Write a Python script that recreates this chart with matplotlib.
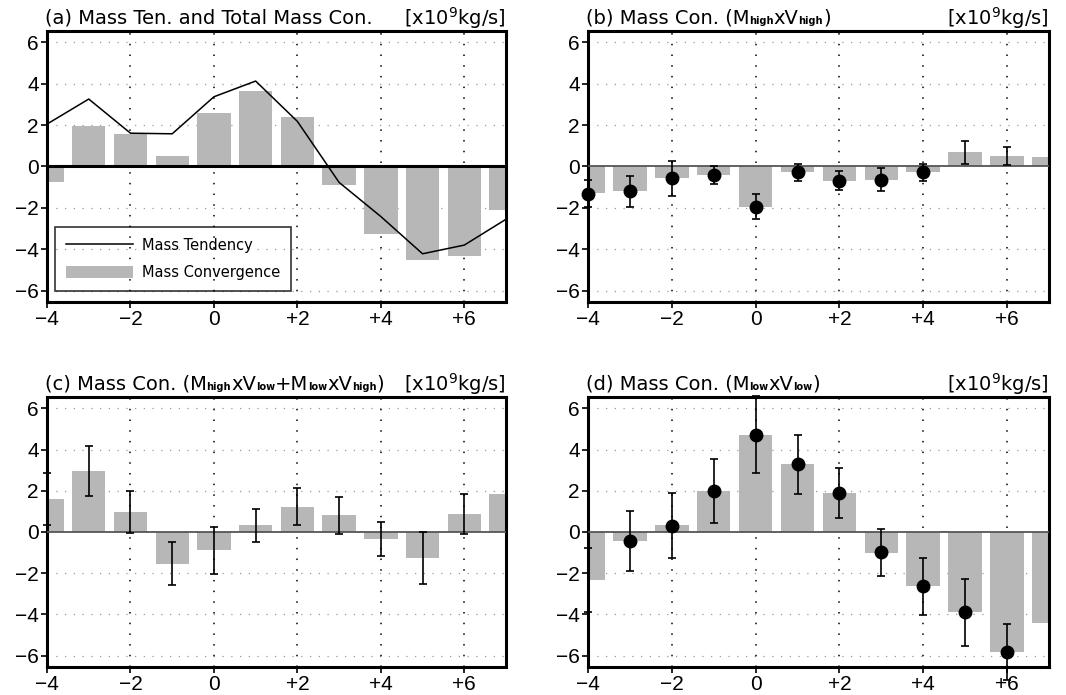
import matplotlib
matplotlib.use('Agg')
import matplotlib.pyplot as plt
from matplotlib.offsetbox import TextArea, HPacker, AnchoredOffsetbox
import numpy as np

# lag (x axis)
lags = [-4, -3, -2, -1, 0, 1, 2, 3, 4, 5, 6, 7]

# (a) mass tendency and total mass convergence
tend_a = [2.05, 3.26, 1.61, 1.58, 3.37, 4.13, 2.18, -0.77, -2.42, -4.22, -3.8, -2.55]
conv_a = [-0.77, 1.97, 1.55, 0.52, 2.6, 3.66, 2.4, -0.9, -3.27, -4.53, -4.35, -2.11]

# (b) Mhigh x Vhigh
conv_b = [-1.3, -1.2, -0.58, -0.42, -1.94, -0.29, -0.69, -0.63, -0.29, 0.68, 0.5, 0.48]
err_b  = [0.67, 0.76, 0.83, 0.43, 0.62, 0.42, 0.47, 0.55, 0.4, 0.57, 0.42, np.nan]
dot_b  = [-1.32, -1.18, -0.58, -0.42, -1.95, -0.27, -0.69, -0.63, -0.29, np.nan, np.nan, np.nan]

# (c) Mhigh x Vlow + Mlow x Vhigh
conv_c = [1.6, 2.96, 0.99, -1.54, -0.88, 0.32, 1.23, 0.8, -0.35, -1.26, 0.88, 1.84]
err_c  = [1.24, 1.21, 1.02, 1.05, 1.14, 0.8, 0.9, 0.88, 0.82, 1.25, 0.98, np.nan]
dot_c  = [np.nan] * 12

# (d) Mlow x Vlow
conv_d = [-2.35, -0.43, 0.32, 2.0, 4.72, 3.28, 1.9, -1.0, -2.64, -3.89, -5.81, -4.42]
err_d  = [1.55, 1.45, 1.58, 1.55, 1.86, 1.42, 1.22, 1.13, 1.37, 1.63, 1.35, np.nan]
dot_d  = [np.nan, -0.43, 0.3, 2.0, 4.7, 3.3, 1.87, -0.99, -2.62, -3.86, -5.81, np.nan]

xticks = [-4, -2, 0, 2, 4, 6]
xticklabels = ['\u22124', '\u22122', '0', '+2', '+4', '+6']
yticks = [-6, -4, -2, 0, 2, 4, 6]
yticklabels = ['\u22126', '\u22124', '\u22122', '0', '2', '4', '6']

# title pieces: (text, is_subscript)
titles = [
    [('(a) Mass Ten. and Total Mass Con.', False)],
    [('(b) Mass Con. (M', False), ('high', True), ('xV', False), ('high', True), (')', False)],
    [('(c) Mass Con. (M', False), ('high', True), ('xV', False), ('low', True),
     ('+M', False), ('low', True), ('xV', False), ('high', True), (')', False)],
    [('(d) Mass Con. (M', False), ('low', True), ('xV', False), ('low', True), (')', False)],
]
unit = r'[x10$^\mathregular{9}$kg/s]'

bar_col = '#b7b7b7'
tfs = 14

fig = plt.figure(figsize=(10.66, 6.95), dpi=100)
boxes = [
    [0.0441, 0.5655, 0.4306, 0.3899],
    [0.5516, 0.5655, 0.4324, 0.3899],
    [0.0441, 0.0403, 0.4306, 0.3885],
    [0.5516, 0.0403, 0.4324, 0.3885],
]
axes = [fig.add_axes(b) for b in boxes]


def style(ax, pieces, thick_zero=False):
    ax.set_xlim(-4, 7)
    ax.set_ylim(-6.55, 6.55)
    ax.set_xticks(xticks)
    ax.set_xticklabels(xticklabels, fontfamily='Liberation Sans', fontsize=15)
    ax.set_yticks(yticks)
    ax.set_yticklabels(yticklabels, fontfamily='Liberation Sans', fontsize=15)
    ax.tick_params(length=4, width=1.2, pad=2)
    for y in [-6, -4, -2, 2, 4, 6]:
        ax.axhline(y, color='#9a9a9a', lw=0.9, ls=(0, (1, 6)), zorder=0.5)
    for x in [-2, 0, 2, 4, 6]:
        ax.axvline(x, color='black', lw=1.1, ls=(0, (1, 6)), zorder=0.5)
    if thick_zero:
        ax.axhline(0, color='black', lw=2.2, zorder=3)
    else:
        ax.axhline(0, color='#555555', lw=1.3, zorder=3)
    for s in ax.spines.values():
        s.set_linewidth(2.2)

    # left title built from pieces so the subscripts stay small
    areas = []
    for txt, sub in pieces:
        if sub:
            props = dict(fontsize=7, fontweight='bold', family='DejaVu Sans')
        else:
            props = dict(fontsize=tfs, family='DejaVu Sans')
        areas.append(TextArea(txt, textprops=props))
    box = HPacker(children=areas, align='baseline', pad=0, sep=0)
    ab = AnchoredOffsetbox(loc='lower left', child=box, pad=0, borderpad=0, frameon=False,
                           bbox_to_anchor=(-0.005, 1.012), bbox_transform=ax.transAxes)
    ax.add_artist(ab)
    ax.set_title(unit, loc='right', fontsize=tfs, pad=4, fontfamily='DejaVu Sans')


# (a)
ax = axes[0]
ax.bar(lags, conv_a, width=0.8, color=bar_col, zorder=2, label='Mass Convergence')
ax.plot(lags, tend_a, color='black', lw=1.1, zorder=4, label='Mass Tendency')
style(ax, titles[0], thick_zero=True)
leg = ax.legend(loc='lower left', bbox_to_anchor=(0.017, 0.04), borderaxespad=0,
                fancybox=False, edgecolor='black', handlelength=4.6, handleheight=0.9,
                handletextpad=0.6, prop={'family': 'DejaVu Sans', 'size': 10.5},
                borderpad=0.75, labelspacing=0.85)
leg.get_frame().set_linewidth(1.2)
leg.get_frame().set_facecolor('none')

# (b), (c), (d)
for ax, conv, err, dot, t in zip(axes[1:], [conv_b, conv_c, conv_d],
                                  [err_b, err_c, err_d], [dot_b, dot_c, dot_d], titles[1:]):
    ax.bar(lags, conv, width=0.8, color=bar_col, zorder=2)
    ax.errorbar(lags, conv, yerr=err, fmt='none', ecolor='black', elinewidth=1.2,
                capsize=3, capthick=1.2, zorder=5, clip_on=False)
    ax.plot(lags, dot, 'o', color='black', ms=9, zorder=6, clip_on=False)
    style(ax, t)

fig.savefig('out.png', dpi=100)
